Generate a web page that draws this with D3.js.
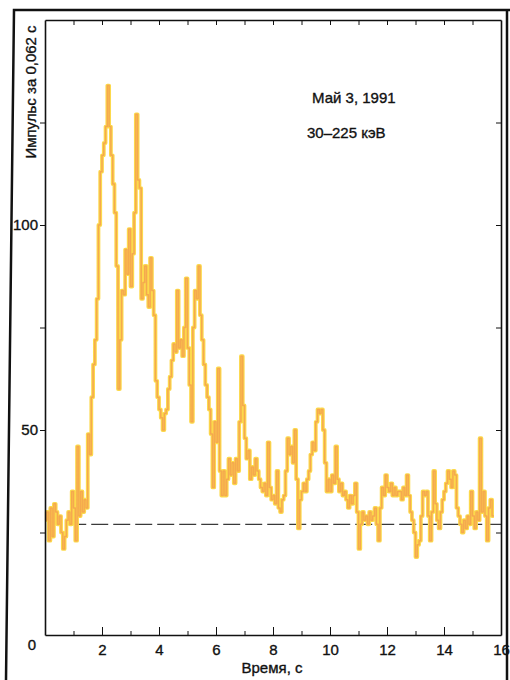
<!DOCTYPE html>
<html>
<head>
<meta charset="utf-8">
<script src="https://cdn.jsdelivr.net/npm/d3@7"></script>
<style>
  body { margin: 0; background: #fff; }
  svg { display: block; font-family: "Liberation Sans", Arial, sans-serif; }
  .axis path, .axis line { stroke: #111; }
  .axis text { fill: #111; font-size: 15px; stroke: #111; stroke-width: 0.35px; }
  .label { fill: #111; stroke: #111; stroke-width: 0.35px; }
</style>
</head>
<body>
<div id="chart"></div>
<script>
/* DATA */
// counts per 0.0625 s bin
const BIN = 0.0625;
const counts = [
  28, 30, 23, 31, 24, 32, 30, 27, 29, 25, 21, 24, 28, 30, 27, 35,
  31, 23, 46, 29, 35, 30, 33, 31, 49, 44, 58, 66, 72, 82, 100, 113,
  117, 120, 124, 134, 124, 117, 110, 103, 90, 60, 72, 84, 83, 94, 88, 99,
  85, 93, 103, 127, 111, 109, 82, 86, 90, 83, 80, 92, 84, 78, 62, 58,
  55, 53, 50, 54, 55, 60, 63, 67, 71, 69, 84, 70, 72, 68, 75, 87,
  70, 61, 52, 75, 84, 82, 90, 78, 72, 66, 61, 58, 55, 49, 36, 52,
  47, 65, 40, 34, 40, 34, 38, 43, 39, 42, 37, 43, 40, 52, 68, 56,
  48, 43, 45, 38, 41, 39, 43, 40, 38, 36, 35, 37, 34, 47, 36, 33,
  34, 32, 40, 31, 30, 33, 34, 40, 48, 44, 46, 42, 50, 38, 26, 33,
  35, 37, 35, 38, 40, 44, 47, 45, 52, 55, 54, 55, 50, 42, 35, 38,
  35, 39, 37, 46, 38, 35, 37, 34, 35, 33, 31, 34, 32, 34, 37, 30,
  21, 27, 30, 28, 29, 27, 30, 28, 29, 31, 27, 23, 31, 36, 34, 39,
  36, 35, 37, 34, 36, 34, 35, 35, 33, 36, 34, 39, 34, 30, 28, 25,
  19, 22, 23, 29, 35, 34, 35, 29, 23, 30, 40, 32, 28, 26, 30, 33,
  35, 37, 40, 38, 36, 40, 39, 31, 29, 27, 25, 28, 26, 29, 27, 35,
  29, 26, 30, 28, 48, 30, 35, 29, 23, 31, 33, 29
];
const background = 27;          // dashed background level
const backgroundStart = 0.85;   // s
const xMajor = [2, 4, 6, 8, 10, 12, 14, 16];
const xMinor = [1, 3, 5, 7, 9, 11, 13, 15];
const xTop = d3.range(1, 16);
const yTicks = [0, 25, 50, 75, 100, 125];
const yLabelled = [0, 50, 100];
const title1 = "Май 3, 1991";
const title2 = "30–225 кэВ";
const xTitle = "Время, с";
const yTitle = "Импульс за 0,062 с";

/* LAYOUT */
const W = 510, H = 680;
const plot = { left: 45, right: 501, top: 20, bottom: 635 };

const svg = d3.select("#chart").append("svg")
  .attr("width", W).attr("height", H);

svg.append("rect").attr("width", W).attr("height", H).attr("fill", "#fff");

// scanned page frame
svg.append("path")
  .attr("d", "M6,680 L14,10 L510,10 M507,10 L507,680")
  .attr("fill", "none").attr("stroke", "#111").attr("stroke-width", 2.5);

const x = d3.scaleLinear().domain([0, 16]).range([plot.left, plot.right]);
const y = d3.scaleLinear().domain([0, 150]).range([plot.bottom, plot.top]);

/* LIGHT CURVE */
const points = counts.map((c, i) => [i * BIN, c]);
points.push([counts.length * BIN, counts[counts.length - 1]]);

const line = d3.line()
  .x((d) => x(d[0]))
  .y((d) => y(d[1]))
  .curve(d3.curveStepAfter);

// background level
svg.append("line")
  .attr("x1", x(backgroundStart)).attr("x2", x(16))
  .attr("y1", y(background)).attr("y2", y(background))
  .attr("stroke", "#3a3a3a").attr("stroke-width", 1.2)
  .attr("stroke-dasharray", "17,5");

svg.append("path").datum(points)
  .attr("d", line)
  .attr("fill", "none").attr("stroke", "#fcd94c")
  .attr("stroke-width", 3.8).attr("stroke-linejoin", "round");

svg.append("path").datum(points)
  .attr("d", line)
  .attr("fill", "none").attr("stroke", "#f5a94e")
  .attr("stroke-width", 1.5).attr("stroke-linejoin", "round");

/* AXES */
svg.append("g").attr("class", "axis")
  .attr("transform", `translate(0,${plot.bottom})`)
  .call(d3.axisBottom(x).tickValues(xMajor).tickSize(-8).tickSizeOuter(0).tickPadding(9))
  .call((g) => g.select(".domain").attr("stroke-width", 1.6));

svg.append("g").attr("class", "axis")
  .attr("transform", `translate(0,${plot.bottom})`)
  .call(d3.axisBottom(x).tickValues(xMinor).tickSize(-4).tickFormat(""))
  .call((g) => g.select(".domain").remove());

svg.append("g").attr("class", "axis")
  .attr("transform", `translate(0,${plot.top})`)
  .call(d3.axisTop(x).tickValues(xTop).tickSize(-5).tickSizeOuter(0).tickFormat(""))
  .call((g) => g.select(".domain").attr("stroke-width", 1.6));

const yAxis = svg.append("g").attr("class", "axis")
  .attr("transform", `translate(${plot.left},0)`)
  .call(d3.axisLeft(y).tickValues(yTicks).tickSize(5).tickSizeOuter(0).tickPadding(2)
    .tickFormat((d) => (yLabelled.includes(d) ? d : "")))
  .call((g) => g.select(".domain").attr("stroke-width", 1.6));

// the zero label sits below the corner
yAxis.selectAll(".tick").filter((d) => d === 0).select("text")
  .attr("dy", "0.95em").attr("x", -9);
yAxis.selectAll(".tick").filter((d) => d === 0).select("line").remove();

svg.append("g").attr("class", "axis")
  .attr("transform", `translate(${plot.right},0)`)
  .call(d3.axisRight(y).tickValues(yTicks.slice(1)).tickSize(-5).tickSizeOuter(0).tickFormat(""))
  .call((g) => g.select(".domain").attr("stroke-width", 1.6));

/* TEXT */
svg.append("text").attr("class", "label")
  .attr("x", 312).attr("y", 103)
  .attr("font-size", 15)
  .text(title1);

svg.append("text").attr("class", "label")
  .attr("x", 307).attr("y", 138)
  .attr("font-size", 15)
  .text(title2);

svg.append("text").attr("class", "label")
  .attr("x", 272).attr("y", 673)
  .attr("text-anchor", "middle")
  .attr("font-size", 15)
  .text(xTitle);

svg.append("text").attr("class", "label")
  .attr("transform", "translate(36,92) rotate(-90)")
  .attr("text-anchor", "middle")
  .attr("font-size", 15)
  .text(yTitle);
</script>
</body>
</html>
